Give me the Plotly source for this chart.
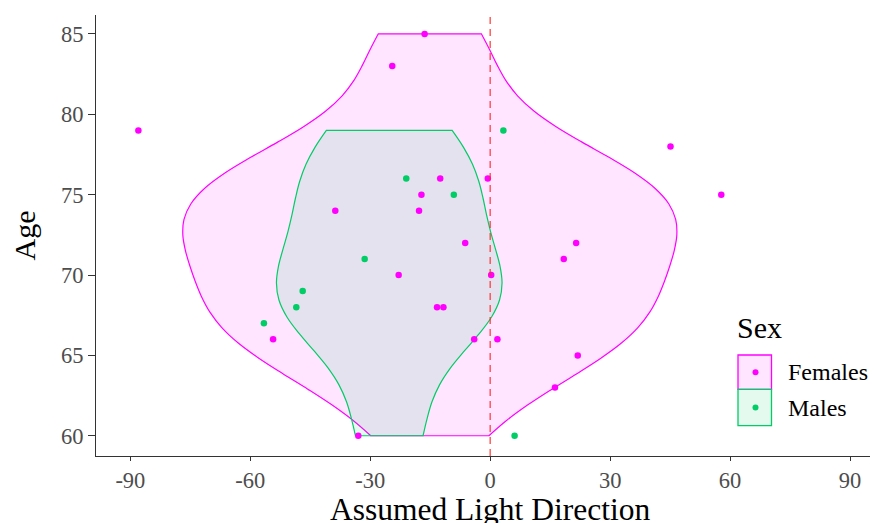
import numpy as np
import plotly.graph_objects as go

# ---------------- data ----------------
female_dir = [-88, -16.4, -24.5, 45.1, 57.8, -0.6, -12.5, -17.2, -17.8, -38.75,
              -6.25, 21.5, 18.4, -22.9, 0.25, -13.3, -11.7, -4, 1.8, -54.3,
              21.9, 16.2, -33]
female_age = [79, 85, 83, 78, 75, 76, 76, 75, 74, 74,
              72, 72, 71, 70, 70, 68, 68, 66, 66, 66,
              65, 63, 60]
male_dir = [3.3, -21, -9.1, -31.4, -46.9, -48.5, -56.6, 6.1]
male_age = [79, 76, 75, 71, 69, 68, 67, 60]

x_ticks = [-90, -60, -30, 0, 30, 60, 90]
y_ticks = [60, 65, 70, 75, 80, 85]
legend_labels = ["Females", "Males"]

# ---------------- styling ----------------
FEM = "#FF00FF"
MAL = "#00CD66"
FEM_FILL = "rgba(255,0,255,0.10)"
MAL_FILL = "rgba(0,205,102,0.10)"
SERIF = "Liberation Serif"

X_RANGE = [-98.6, 97.0]
Y_RANGE = [58.74, 86.18]
OFF = 8  # page body margin
L, R, T, B = 96 - OFF, 0, 15 - OFF, 67
W, H = 878 - OFF, 523 - OFF
PW, PH = W - L - R, H - T - B


def bw_nrd0(v):
    v = np.asarray(v, float)
    hi = v.std(ddof=1)
    q75, q25 = np.percentile(v, [75, 25])
    lo = min(hi, (q75 - q25) / 1.34)
    return 0.9 * lo * len(v) ** -0.2


def peak_density(v, bw):
    v = np.asarray(v, float)
    g = np.linspace(v.min(), v.max(), 512)
    d = np.exp(-0.5 * ((g[:, None] - v[None, :]) / bw) ** 2).sum(1)
    return d.max() / (len(v) * bw * np.sqrt(2 * np.pi))


bw_f, bw_m = bw_nrd0(female_age), bw_nrd0(male_age)
pk_f, pk_m = peak_density(female_age, bw_f), peak_density(male_age, bw_m)
pk = max(pk_f, pk_m)
cen_f = (min(female_dir) + max(female_dir)) / 2
cen_m = (min(male_dir) + max(male_dir)) / 2
wid_f = 0.9 * (max(female_dir) - min(female_dir)) * pk_f / pk
wid_m = 0.9 * (max(male_dir) - min(male_dir)) * pk_m / pk

fig = go.Figure()
fig.add_trace(go.Violin(
    x0=cen_f, y=female_age, orientation="v", width=wid_f, spanmode="hard",
    bandwidth=bw_f, scalemode="width", points=False,
    box_visible=False, meanline_visible=False,
    line=dict(color=FEM, width=1.2), fillcolor=FEM_FILL,
    hoverinfo="skip", showlegend=False, name="Females"))
fig.add_trace(go.Violin(
    x0=cen_m, y=male_age, orientation="v", width=wid_m, spanmode="hard",
    bandwidth=bw_m, scalemode="width", points=False,
    box_visible=False, meanline_visible=False,
    line=dict(color=MAL, width=1.2), fillcolor=MAL_FILL,
    hoverinfo="skip", showlegend=False, name="Males"))
fig.add_trace(go.Scatter(x=female_dir, y=female_age, mode="markers",
                         marker=dict(color=FEM, size=6.5), showlegend=False,
                         hoverinfo="skip"))
fig.add_trace(go.Scatter(x=male_dir, y=male_age, mode="markers",
                         marker=dict(color=MAL, size=6.5), showlegend=False,
                         hoverinfo="skip"))


def px(x, y):
    """screen pixel -> paper coordinates"""
    return (x - OFF - L) / PW, (H - B - (y - OFF)) / PH


shapes = [dict(type="line", xref="x", yref="paper", x0=0, x1=0, y0=0, y1=1,
               line=dict(color="rgba(255,40,40,0.75)", width=1.5, dash="7px,5px"),
               layer="above")]
annotations = []

# manual legend
boxes = [(355, 389.3, FEM, FEM_FILL), (389.3, 425.7, MAL, MAL_FILL)]
for (y0, y1, col, fill), lab in zip(boxes, legend_labels):
    ax0, ay0 = px(738, y1)
    ax1, ay1 = px(771.5, y0)
    shapes.append(dict(type="rect", xref="paper", yref="paper",
                       x0=ax0, x1=ax1, y0=ay0, y1=ay1,
                       fillcolor=fill, line=dict(color=col, width=1.3)))
    cx, cy = px(755.5, (y0 + y1) / 2)
    shapes.append(dict(type="circle", xref="paper", yref="paper",
                       xsizemode="pixel", ysizemode="pixel",
                       xanchor=cx, yanchor=cy, x0=-3, x1=3, y0=-3, y1=3,
                       fillcolor=col, line=dict(width=0)))
    tx, ty = px(786, (y0 + y1) / 2)
    annotations.append(dict(text=lab, xref="paper", yref="paper", x=tx, y=ty,
                            xanchor="left", yanchor="middle", showarrow=False,
                            font=dict(family=SERIF, size=24, color="black")))
sx, sy = px(735, 327)
annotations.append(dict(text="Sex", xref="paper", yref="paper", x=sx, y=sy,
                        xanchor="left", yanchor="middle", showarrow=False,
                        font=dict(family=SERIF, size=30, color="black")))

# axis titles
annotations.append(dict(text="Assumed Light Direction", xref="x", yref="paper",
                        x=0, y=px(0, 509.5)[1], xanchor="center", yanchor="middle",
                        showarrow=False,
                        font=dict(family=SERIF, size=31.5, color="black")))
annotations.append(dict(text="Age", xref="paper", yref="paper",
                        x=px(24, 0)[0], y=0.5, xanchor="center", yanchor="middle",
                        textangle=-90, showarrow=False,
                        font=dict(family=SERIF, size=30, color="black")))

fig.update_layout(
    width=W, height=H, margin=dict(l=L, r=R, t=T, b=B),
    paper_bgcolor="white", plot_bgcolor="white",
    violinmode="overlay", shapes=shapes, annotations=annotations,
    showlegend=False,
    xaxis=dict(type="linear", range=X_RANGE, tickvals=x_ticks,
               ticktext=[str(v) for v in x_ticks], showgrid=False, zeroline=False,
               showline=True, linecolor="#333333", linewidth=1.1,
               ticks="outside", ticklen=4, tickcolor="#333333",
               tickfont=dict(family=SERIF, size=22.5, color="#4D4D4D")),
    yaxis=dict(type="linear", range=Y_RANGE, tickvals=y_ticks,
               showgrid=False, zeroline=False,
               showline=True, linecolor="#333333", linewidth=1.1,
               ticks="outside", ticklen=7, tickcolor="#333333",
               tickfont=dict(family=SERIF, size=22.5, color="#4D4D4D")),
)

fig.write_html("out.html")
